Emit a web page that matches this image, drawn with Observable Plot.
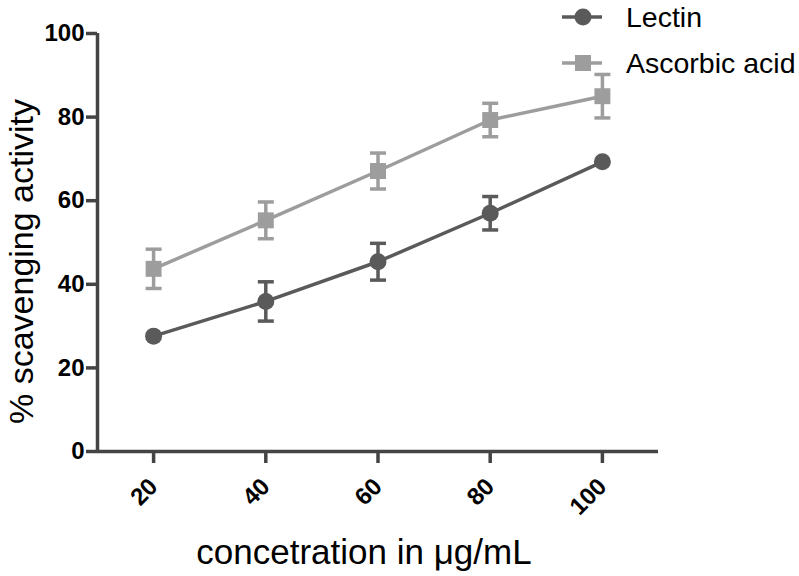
<!DOCTYPE html>
<html>
<head>
<meta charset="utf-8">
<script src="https://cdn.jsdelivr.net/npm/d3@7"></script>
<script src="https://cdn.jsdelivr.net/npm/@observablehq/plot@0.6"></script>
<style>
  html, body { margin: 0; padding: 0; background: #fff; }
  #wrap { position: relative; width: 799px; height: 576px; font-family: "Liberation Sans", Arial, sans-serif; }
  #legend { position: absolute; left: 560px; top: 0; }
  .item { position: absolute; left: 0; height: 40px; display: flex; align-items: center; white-space: nowrap; }
  .item span { font-size: 28.5px; color: #000; margin-left: 22px; }
</style>
</head>
<body>
<div id="wrap"></div>
<script>
const concentrations = [20, 40, 60, 80, 100];
const lectinMean = [27.6, 35.9, 45.4, 57.0, 69.3];
const lectinErr = [0, 4.7, 4.4, 4.0, 0];
const ascorbicMean = [43.7, 55.3, 67.1, 79.3, 85.0];
const ascorbicErr = [4.7, 4.4, 4.3, 4.0, 5.2];
const seriesNames = ["Lectin", "Ascorbic acid"];
const seriesColors = ["#5a5a5a", "#9d9d9d"];
const xTicks = [20, 40, 60, 80, 100];
const yTicks = [0, 20, 40, 60, 80, 100];
const xLabel = "concetration in \u03bcg/mL";
const yLabel = "% scavenging activity";

const rows = [];
concentrations.forEach((c, i) => {
  rows.push({series: seriesNames[0], x: c, y: lectinMean[i], err: lectinErr[i], lo: lectinMean[i] - lectinErr[i], hi: lectinMean[i] + lectinErr[i]});
  rows.push({series: seriesNames[1], x: c, y: ascorbicMean[i], err: ascorbicErr[i], lo: ascorbicMean[i] - ascorbicErr[i], hi: ascorbicMean[i] + ascorbicErr[i]});
});
const errRows = rows.filter(d => d.err > 0);
const colorOf = s => seriesColors[seriesNames.indexOf(s)];

const capSymbol = {draw(ctx) { ctx.moveTo(-8, 0); ctx.lineTo(8, 0); }};

const chart = Plot.plot({
  width: 799,
  height: 576,
  marginLeft: 97,
  marginRight: 141,
  marginTop: 33,
  marginBottom: 125,
  style: {fontFamily: "'Liberation Sans', Arial, sans-serif", background: "#fff", overflow: "visible"},
  x: {domain: [10, 110]},
  y: {domain: [0, 100]},
  marks: [
    Plot.axisY({ticks: yTicks, tickSize: 11, tickPadding: 2, stroke: "#444", strokeWidth: 3.5, fill: "#000", fontSize: 24, fontWeight: "bold", label: null}),
    Plot.axisX({ticks: xTicks, tickSize: 12, tickPadding: 19, tickRotate: -45, stroke: "#444", strokeWidth: 3.5, fill: "#000", fontSize: 24, fontWeight: "bold", label: null}),
    Plot.ruleX([10], {stroke: "#444", strokeWidth: 3.5}),
    Plot.ruleY([0], {stroke: "#444", strokeWidth: 3.5}),
    Plot.line(rows, {x: "x", y: "y", z: "series", stroke: d => colorOf(d.series), strokeWidth: 3.5}),
    Plot.ruleX(errRows, {x: "x", y1: "lo", y2: "hi", stroke: d => colorOf(d.series), strokeWidth: 3.5}),
    Plot.dot(errRows, {x: "x", y: "lo", symbol: capSymbol, r: 1, stroke: d => colorOf(d.series), strokeWidth: 3.5}),
    Plot.dot(errRows, {x: "x", y: "hi", symbol: capSymbol, r: 1, stroke: d => colorOf(d.series), strokeWidth: 3.5}),
    Plot.dot(rows.filter(d => d.series === seriesNames[0]), {x: "x", y: "y", r: 8.5, fill: seriesColors[0], symbol: "circle"}),
    Plot.dot(rows.filter(d => d.series === seriesNames[1]), {x: "x", y: "y", r: 9, fill: seriesColors[1], symbol: "square"}),
    Plot.text([xLabel], {frameAnchor: "bottom", dx: -14, dy: 101, fontSize: 35, fill: "#000", lineAnchor: "middle", textAnchor: "middle"}),
    Plot.text([yLabel], {frameAnchor: "left", dx: -75, dy: 19, rotate: -90, fontSize: 34, fill: "#000", lineAnchor: "middle", textAnchor: "middle"})
  ]
});

const wrap = document.getElementById("wrap");
wrap.appendChild(chart);

// Legend (HTML overlay)
const legend = document.createElement("div");
legend.id = "legend";
const legendY = [17, 63];
seriesNames.forEach((name, i) => {
  const item = document.createElement("div");
  item.className = "item";
  item.style.top = (legendY[i] - 20) + "px";
  const marker = i === 0
    ? `<circle cx="23" cy="20" r="8.5" fill="${seriesColors[i]}"/>`
    : `<rect x="15" y="12" width="16" height="16" fill="${seriesColors[i]}"/>`;
  item.innerHTML = `<svg width="44" height="40"><line x1="2" x2="42" y1="20" y2="20" stroke="${seriesColors[i]}" stroke-width="3.5"/>${marker}</svg><span>${name}</span>`;
  legend.appendChild(item);
});
wrap.appendChild(legend);
</script>
</body>
</html>
